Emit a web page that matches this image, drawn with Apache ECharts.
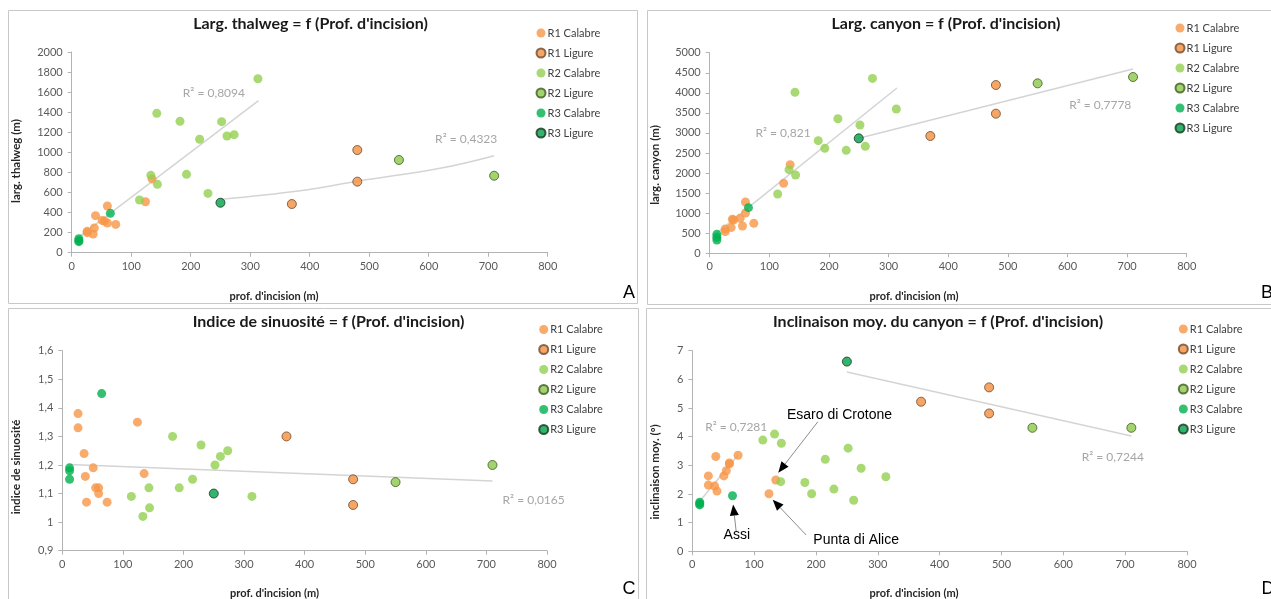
<!DOCTYPE html>
<html><head><meta charset="utf-8">
<script src="https://cdn.jsdelivr.net/npm/echarts@6/dist/echarts.min.js"></script>
<style>html,body{margin:0;padding:0;background:#fff}#c{width:1271px;height:599px}</style>
</head><body><div id="c"></div><script>
// ---------------- DATA ----------------
const groupNames = ['R1 Calabre','R1 Ligure','R2 Calabre','R2 Ligure','R3 Calabre','R3 Ligure'];
// x : profondeur d'incision (m)
const depthR1Calabre = [26,26,36,38,40,51,55,60,60,74,124,135];
const depthR1Ligure  = [370,480,480];
const depthR2Calabre = [114,133,143,144,182,193,215,229,252,261,273,313];
const depthR2Ligure  = [550,710];
const depthR3Calabre = [12,12,12,65];
const depthR3Ligure  = [250];
// A : largeur du thalweg (m)
const thalwegR1Calabre = [213,200,186,246,369,322,316,465,296,282,508,735];
const thalwegR1Ligure  = [485,1023,708];
const thalwegR2Calabre = [525,771,1389,681,1309,781,1130,591,1306,1163,1176,1734];
const thalwegR2Ligure  = [924,767];
const thalwegR3Calabre = [140,120,110,392];
const thalwegR3Ligure  = [498];
// B : largeur du canyon (m)
const canyonR1Calabre = [606,540,640,850,830,872,681,1279,1005,747,1744,2209];
const canyonR1Ligure  = [2924,4194,3480];
const canyonR2Calabre = [1478,2085,4012,1952,2807,2616,3355,2566,3198,2666,4360,3596];
const canyonR2Ligure  = [4236,4394];
const canyonR3Calabre = [473,399,332,1138];
const canyonR3Ligure  = [2865];
// C : indice de sinuosité
const sinuR1Calabre = [1.38,1.33,1.24,1.16,1.07,1.19,1.12,1.12,1.10,1.07,1.35,1.17];
const sinuR1Ligure  = [1.30,1.15,1.06];
const sinuR2Calabre = [1.09,1.02,1.12,1.05,1.30,1.12,1.15,1.27,1.20,1.23,1.25,1.09];
const sinuR2Ligure  = [1.14,1.20];
const sinuR3Calabre = [1.19,1.18,1.15,1.45];
const sinuR3Ligure  = [1.10];
// D : inclinaison moyenne (°)
const slopeR1Calabre = [2.63,2.31,2.28,3.31,2.10,2.63,2.81,3.08,3.05,3.35,2.01,2.49];
const slopeR1Ligure  = [5.22,5.72,4.81];
const slopeR2Calabre = [3.88,4.09,2.43,3.77,2.40,2.01,3.21,2.17,3.60,1.78,2.90,2.60];
const slopeR2Ligure  = [4.31,4.31];
const slopeR3Calabre = [1.71,1.62,1.66,1.94];
const slopeR3Ligure  = [6.62];
// trend lines
const trendA1 = [[12,155],[314,1515]];
const trendA2 = [[250,532],[384,618],[480,712],[619,841],[710,967]];
const trendB1 = [[12,510],[314,4120]];
const trendB2 = [[250,2870],[710,4593]];
const trendC1 = [[12,1.202],[710,1.144]];
const trendD1 = [[12,1.75],[74,3.36]];
const trendD2 = [[250,6.26],[710,4.02]];
// R² labels: [text, x, y]
const r2A = [['R² = 0,8094',239,1592],['R² = 0,4323',663,1134]];
const r2B = [['R² = 0,821',123,2998],['R² = 0,7778',655,3698]];
const r2C = [['R² = 0,0165',778,1.077]];
const r2D = [['R² = 0,7281',71,4.34],['R² = 0,7244',680,3.29]];
// annotations in D: [text, textX, textY, fromX, fromY, tipX, tipY]
const notesD = [
  ['Esaro di Crotone',238,4.75,203,4.52,139,2.74],
  ['Assi',72,0.57,71,0.69,66,1.63],
  ['Punta di Alice',265,0.39,184,0.57,130,1.80]
];
const titles = ['Larg. thalweg = f (Prof. d\'incision)','Larg. canyon = f (Prof. d\'incision)',
  'Indice de sinuosité = f (Prof. d\'incision)','Inclinaison moy. du canyon = f (Prof. d\'incision)'];
const yNames = ['larg. thalweg (m)','larg. canyon (m)','indice de sinuosité','inclinaison moy. (°)'];
const xName = 'prof. d\'incision (m)';
const panelLetters = ['A','B','C','D'];
const yRanges = [[0,2000,200],[0,5000,500],[0.9,1.6,0.1],[0,7,1]];
const xRange = [0,800,100];

// ---------------- LAYOUT ----------------
const depths = [depthR1Calabre,depthR1Ligure,depthR2Calabre,depthR2Ligure,depthR3Calabre,depthR3Ligure];
const values = [
  [thalwegR1Calabre,thalwegR1Ligure,thalwegR2Calabre,thalwegR2Ligure,thalwegR3Calabre,thalwegR3Ligure],
  [canyonR1Calabre,canyonR1Ligure,canyonR2Calabre,canyonR2Ligure,canyonR3Calabre,canyonR3Ligure],
  [sinuR1Calabre,sinuR1Ligure,sinuR2Calabre,sinuR2Ligure,sinuR3Calabre,sinuR3Ligure],
  [slopeR1Calabre,slopeR1Ligure,slopeR2Calabre,slopeR2Ligure,slopeR3Calabre,slopeR3Ligure]
];
const trends = [[trendA1,trendA2],[trendB1,trendB2],[trendC1],[trendD1,trendD2]];
const r2s = [r2A,r2B,r2C,r2D];
const styles = [
  {color:'#f79646'},
  {color:'#f28e3f',borderColor:'#6e4a2a',borderWidth:1},
  {color:'#92d050'},
  {color:'#8cc84b',borderColor:'#3f5a1f',borderWidth:1},
  {color:'#00b050'},
  {color:'#00a04a',borderColor:'#16361c',borderWidth:1}
];
const L = [
  {grid:{left:71.7,top:52,width:476,height:200.7}, box:[8,10,629,293], title:[310.5,23.5], legend:[530.5,22.5],
   yName:[16,161], xName:[274,296], letter:[629,293]},
  {grid:{left:709.7,top:52.7,width:477,height:200.6}, box:[647,10,640,294], title:[946,24], legend:[1169.5,17.5],
   yName:[655,165], xName:[914,296], letter:[1267,293]},
  {grid:{left:62.3,top:350.7,width:484.7,height:200}, box:[8,308,630,300], title:[328.5,321.5], legend:[533.2,319],
   yName:[16,467], xName:[274.5,593.5], letter:[629,589]},
  {grid:{left:692.3,top:350.7,width:494.7,height:200.6}, box:[646,308,640,300], title:[938,321.5], legend:[1172.8,318.5],
   yName:[655,472], xName:[914,593.5], letter:[1268,589]}
];
const FONT = 'Lato, "Open Sans", sans-serif';
const fmt = v => String(+(+v).toFixed(2)).replace('.',',');

const series = [];
values.forEach((panelVals,p)=>{
  trends[p].forEach((t,k)=>series.push({type:'line', name:'trend'+p+k, xAxisIndex:p, yAxisIndex:p, data:t,
    smooth: t.length>2 ? 0.4 : false, symbol:'none', silent:true, z:1,
    lineStyle:{color:'#d4d4d4', width:1.5}}));
  panelVals.forEach((vals,g)=>series.push({type:'scatter', name:groupNames[g], xAxisIndex:p, yAxisIndex:p,
    data: depths[g].map((x,i)=>[x,vals[i]]), symbol:'circle', symbolSize:9, itemStyle:styles[g], z:3}));
});

const axisLine = {lineStyle:{color:'#b3b3b3',width:1}};
const option = {
  animation:false,
  backgroundColor:'#fff',
  grid: L.map(l=>Object.assign({containLabel:false}, l.grid)),
  xAxis: L.map((l,p)=>({type:'value', gridIndex:p, min:xRange[0], max:xRange[1], interval:xRange[2],
    axisLine:Object.assign({show:true},axisLine), axisTick:{show:true,length:4,lineStyle:{color:'#b3b3b3'}},
    splitLine:{show:false}, axisLabel:{fontFamily:FONT,fontSize:11,color:'#595959',margin:8}})),
  yAxis: L.map((l,p)=>({type:'value', gridIndex:p, min:yRanges[p][0], max:yRanges[p][1], interval:yRanges[p][2],
    axisLine:Object.assign({show:true},axisLine), axisTick:{show:true,length:4,lineStyle:{color:'#b3b3b3'}},
    splitLine:{show:false}, axisLabel:{fontFamily:FONT,fontSize:11,color:'#595959',margin:9,formatter:fmt}})),
  legend: L.map(l=>({data:groupNames, orient:'vertical', left:l.legend[0], top:l.legend[1], itemWidth:9, itemHeight:9,
    itemGap:9, selectedMode:false, textStyle:{fontFamily:FONT,fontSize:11,color:'#404040',padding:[0,0,0,-3]}})),
  series
};
const chart = echarts.init(document.getElementById('c'), null, {renderer:'canvas'});
chart.setOption(option);

// ---------------- TEXT & DECORATION ----------------
const G = [];
const toPx = (p,x,y)=>chart.convertToPixel({gridIndex:p},[x,y]);
L.forEach((l,p)=>{
  G.push({type:'rect', shape:{x:l.box[0]+0.5,y:l.box[1]+0.5,width:l.box[2],height:l.box[3]}, silent:true, z:-1,
    style:{fill:null, stroke:'#c8c8c8', lineWidth:1}});
  G.push({type:'text', x:l.title[0], y:l.title[1], style:{text:titles[p], font:'bold 16px '+FONT, fill:'#1a1a1a', align:'center', verticalAlign:'middle'}});
  G.push({type:'text', x:l.yName[0], y:l.yName[1], rotation:Math.PI/2, style:{text:yNames[p], font:'bold 11.5px '+FONT, fill:'#262626', align:'center', verticalAlign:'middle'}});
  G.push({type:'text', x:l.xName[0], y:l.xName[1], style:{text:xName, font:'bold 11px '+FONT, fill:'#262626', align:'center', verticalAlign:'middle'}});
  G.push({type:'text', x:l.letter[0], y:l.letter[1], style:{text:panelLetters[p], font:'18px "Liberation Sans", Arial, sans-serif', fill:'#000', align:'center', verticalAlign:'middle'}});
  r2s[p].forEach(r=>{const q=toPx(p,r[1],r[2]);
    G.push({type:'text', x:q[0], y:q[1], style:{text:r[0], font:'12px '+FONT, fill:'#a6a6a6', align:'center', verticalAlign:'middle'}});});
});
notesD.forEach(n=>{
  const t=toPx(3,n[1],n[2]), s=toPx(3,n[3],n[4]), e=toPx(3,n[5],n[6]);
  const dx=e[0]-s[0], dy=e[1]-s[1], len=Math.hypot(dx,dy), ux=dx/len, uy=dy/len;
  const hl=11, hw=4.5, bx=e[0]-ux*hl, by=e[1]-uy*hl;
  G.push({type:'line', shape:{x1:s[0],y1:s[1],x2:bx,y2:by}, style:{stroke:'#8c8c8c', lineWidth:1}});
  G.push({type:'polygon', shape:{points:[[e[0],e[1]],[bx-uy*hw,by+ux*hw],[bx+uy*hw,by-ux*hw]]}, style:{fill:'#000'}});
  G.push({type:'text', x:t[0], y:t[1], style:{text:n[0], font:'14px "Liberation Sans", Arial, sans-serif', fill:'#000', align:'center', verticalAlign:'middle'}});
});
chart.setOption({graphic:G});
</script></body></html>
